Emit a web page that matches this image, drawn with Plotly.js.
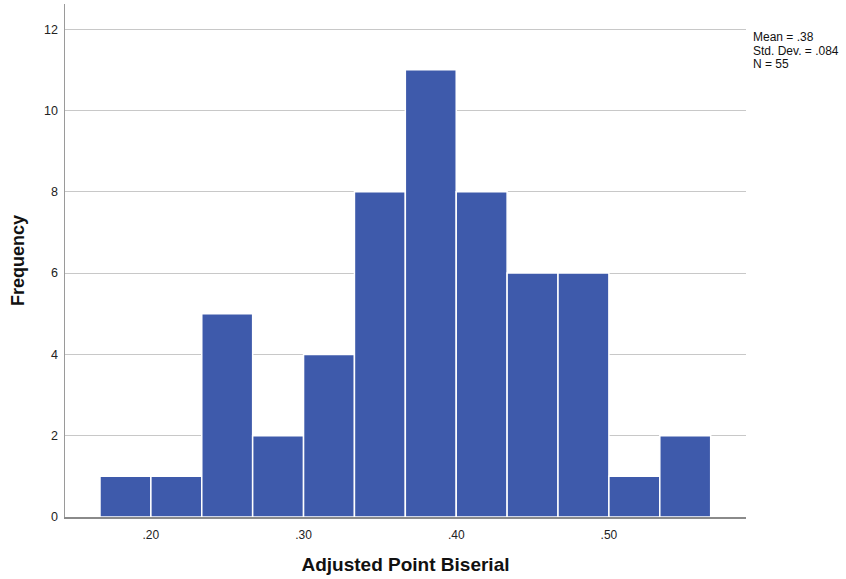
<!DOCTYPE html>
<html>
<head>
<meta charset="utf-8">
<script src="https://cdn.plot.ly/plotly-3.0.1.min.js"></script>
<style>html,body{margin:0;padding:0;background:#fff;}#chart{width:846px;height:579px;}</style>
</head>
<body>
<div id="chart"></div>
<script>
// Histogram bins (left edges), bin width and frequencies
const binStart = 1/6;
const binWidth = 1/30;
const counts = [1, 1, 5, 2, 4, 8, 11, 8, 6, 6, 1, 2];
const xTickVals = [0.20, 0.30, 0.40, 0.50];
const xTickText = ['.20', '.30', '.40', '.50'];
const yTickVals = [0, 2, 4, 6, 8, 10, 12];
const statsLines = ['Mean = .38', 'Std. Dev. = .084', 'N = 55'];

const centers = counts.map((c, i) => binStart + binWidth * (i + 0.5));

const trace = {
  type: 'bar',
  x: centers,
  y: counts,
  width: counts.map(() => binWidth),
  marker: { color: '#3e5aab', line: { color: '#ffffff', width: 1.5 } },
  hoverinfo: 'x+y'
};

const annotations = statsLines.map((t, i) => ({
  xref: 'paper', yref: 'paper', x: 1, y: 1,
  xanchor: 'left', yanchor: 'top', xshift: 6, yshift: -25 - i * 13.5,
  align: 'left', showarrow: false, borderpad: 0,
  text: t,
  font: { size: 12, color: '#111' }
}));

const layout = {
  width: 846, height: 579,
  margin: { l: 65, r: 100, t: 4, b: 62 },
  paper_bgcolor: '#ffffff', plot_bgcolor: '#ffffff',
  font: { family: 'Liberation Sans, Arial, sans-serif', color: '#222' },
  showlegend: false,
  bargap: 0,
  xaxis: {
    range: [0.14375, 0.5898],
    tickvals: xTickVals, ticktext: xTickText,
    ticks: '', showgrid: false, zeroline: false,
    showline: true, linecolor: '#8a8a8a', linewidth: 2,
    ticklabelstandoff: 6,
    tickfont: { size: 12, color: '#222' },
    title: { text: 'Adjusted Point Biserial', font: { size: 19, color: '#111', weight: 'bold' }, standoff: 16 }
  },
  yaxis: {
    range: [0, 12.62],
    tickvals: yTickVals,
    ticks: '', showgrid: true, gridcolor: '#c8c8c8', gridwidth: 1,
    zeroline: false, showline: true, linecolor: '#9a9a9a', linewidth: 1.5,
    ticklabelstandoff: 3,
    tickfont: { size: 12.5, color: '#222' },
    title: { text: 'Frequency', font: { size: 18, color: '#111', weight: 'bold' }, standoff: 15 }
  },
  annotations: annotations
};

Plotly.newPlot('chart', [trace], layout, { displayModeBar: false, staticPlot: true });
</script>
</body>
</html>
